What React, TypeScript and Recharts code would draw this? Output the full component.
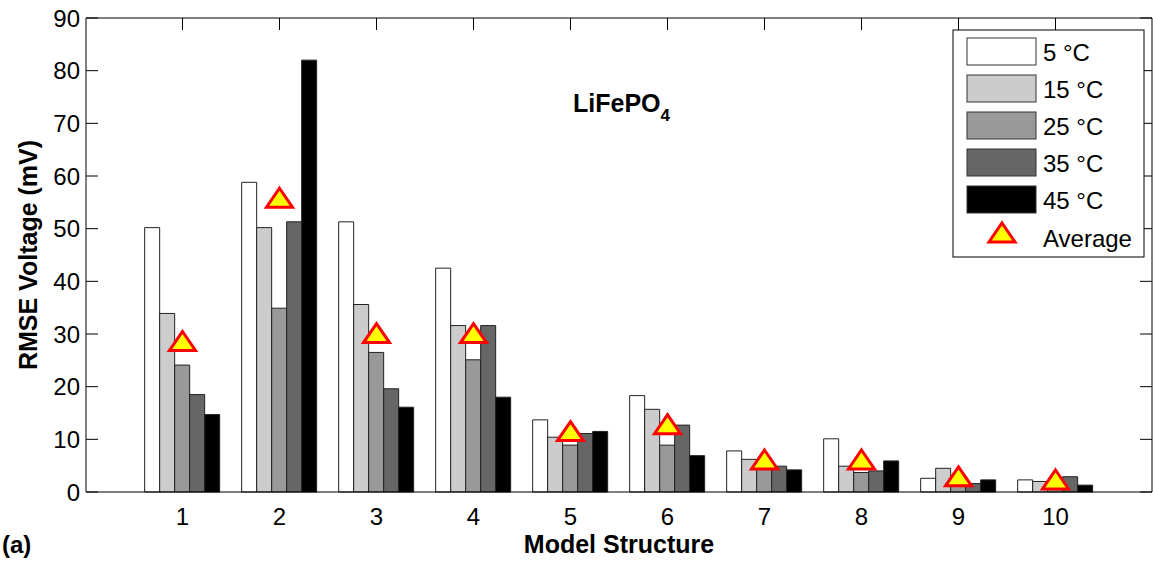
import React from 'react';
import { ComposedChart, Bar, Line, XAxis, YAxis } from 'recharts';

const FONT = '"Liberation Sans", Arial, sans-serif';

// model structures on the x axis
const structures = ['1', '2', '3', '4', '5', '6', '7', '8', '9', '10'];

// RMSE voltage (mV) per temperature
const temps = ['5 °C', '15 °C', '25 °C', '35 °C', '45 °C'];
const rmse5 = [50.2, 58.8, 51.3, 42.5, 13.7, 18.3, 7.8, 10.1, 2.6, 2.3];
const rmse15 = [33.9, 50.2, 35.6, 31.6, 10.4, 15.7, 6.2, 4.9, 4.5, 2.0];
const rmse25 = [24.1, 34.9, 26.5, 25.1, 8.9, 8.9, 5.4, 3.7, 1.5, 1.0];
const rmse35 = [18.5, 51.3, 19.6, 31.6, 11.1, 12.7, 4.9, 4.0, 1.6, 2.9];
const rmse45 = [14.7, 82.0, 16.1, 18.0, 11.5, 6.9, 4.2, 5.9, 2.3, 1.3];
const average = [28.2, 55.4, 29.7, 29.7, 11.1, 12.4, 5.7, 5.7, 2.5, 1.9];

const yTicks = [0, 10, 20, 30, 40, 50, 60, 70, 80, 90];

const seriesKeys = ['t5', 't15', 't25', 't35', 't45'];
const fills = ['#ffffff', '#cccccc', '#999999', '#666666', '#000000'];

const data = structures.map((name, i) => ({
  name,
  t5: rmse5[i],
  t15: rmse15[i],
  t25: rmse25[i],
  t35: rmse35[i],
  t45: rmse45[i],
  avg: average[i],
}));

const TICK_LEN = 12;

const LeftTick = (props: any) => {
  const { x, y, payload } = props;
  return (
    <g>
      <line x1={x} y1={y} x2={x + TICK_LEN} y2={y} stroke="#000" />
      <text x={x - 6} y={y} dy="0.36em" textAnchor="end" fontSize={24} fontFamily={FONT} fill="#000">
        {payload.value}
      </text>
    </g>
  );
};

const RightTick = (props: any) => {
  const { x, y } = props;
  return <line x1={x} y1={y} x2={x - TICK_LEN} y2={y} stroke="#000" />;
};

const TopTick = (props: any) => {
  const { x, y } = props;
  return <line x1={x} y1={y} x2={x} y2={y + TICK_LEN} stroke="#000" />;
};

const BottomTick = (props: any) => {
  const { x, y, payload } = props;
  return (
    <text x={x} y={y + 33} textAnchor="middle" fontSize={24} fontFamily={FONT} fill="#000">
      {payload.value}
    </text>
  );
};

const Triangle = ({ cx, cy }: { cx: number; cy: number }) => (
  <polygon
    points={`${cx},${cy - 12} ${cx + 13},${cy + 7} ${cx - 13},${cy + 7}`}
    fill="#ffff00"
    stroke="#ff0000"
    strokeWidth={3}
  />
);

const TriangleDot = (props: any) => {
  const { cx, cy, index } = props;
  if (cx == null || cy == null) return null;
  return <Triangle key={`tri-${index}`} cx={cx} cy={cy} />;
};

export default function App() {
  return (
    <div style={{ position: 'absolute', left: 0, top: 0, width: 1153, height: 561, background: '#fff', fontFamily: FONT }}>
      <ComposedChart
        width={1153}
        height={561}
        data={data}
        margin={{ top: 0, right: 0, left: 0, bottom: 0 }}
        barCategoryGap="11%"
        barGap={0}
      >
        <XAxis
          dataKey="name"
          xAxisId="bottom"
          orientation="bottom"
          height={69}
          padding={{ left: 48, right: 48 }}
          axisLine={{ stroke: '#000' }}
          tickLine={false}
          tickSize={0}
          tickMargin={0}
          tick={<BottomTick />}
          interval={0}
        />
        <XAxis
          dataKey="name"
          xAxisId="top"
          orientation="top"
          height={18}
          padding={{ left: 48, right: 48 }}
          axisLine={{ stroke: '#000' }}
          tickLine={false}
          tickSize={0}
          tickMargin={0}
          tick={<TopTick />}
          interval={0}
        />
        <YAxis
          yAxisId="left"
          orientation="left"
          width={86}
          domain={[0, 90]}
          ticks={yTicks}
          axisLine={{ stroke: '#000' }}
          tickLine={false}
          tickSize={0}
          tickMargin={0}
          tick={<LeftTick />}
          interval={0}
        />
        <YAxis
          yAxisId="right"
          orientation="right"
          width={1}
          domain={[0, 90]}
          ticks={yTicks}
          axisLine={{ stroke: '#000' }}
          tickLine={false}
          tickSize={0}
          tickMargin={0}
          tick={<RightTick />}
          interval={0}
        />
        {seriesKeys.map((key, i) => (
          <Bar
            key={key}
            dataKey={key}
            name={temps[i]}
            xAxisId="bottom"
            yAxisId="left"
            fill={fills[i]}
            stroke="#222"
            strokeWidth={1}
            isAnimationActive={false}
          />
        ))}
        <Line
          dataKey="avg"
          name="Average"
          xAxisId="top"
          yAxisId="right"
          stroke="none"
          dot={<TriangleDot />}
          activeDot={false}
          legendType="none"
          isAnimationActive={false}
        />
      </ComposedChart>

      <svg
        width={1153}
        height={561}
        style={{ position: 'absolute', left: 0, top: 0, pointerEvents: 'none' }}
        fontFamily={FONT}
      >
        {/* axis titles */}
        <text x={28} y={255} transform="rotate(-90 28 255)" textAnchor="middle" dy="0.36em" fontSize={25} fontWeight="bold">
          RMSE Voltage (mV)
        </text>
        <text x={619} y={553} textAnchor="middle" fontSize={25} fontWeight="bold">
          Model Structure
        </text>
        <text x={2} y={553} fontSize={24} fontWeight="bold">
          (a)
        </text>
        <text x={573} y={112} fontSize={25} fontWeight="bold">
          LiFePO<tspan fontSize={17} dy={9}>4</tspan>
        </text>

        {/* legend */}
        <rect x={953} y={30} width={191} height={227} fill="#fff" stroke="#000" />
        {temps.map((t, i) => (
          <g key={t}>
            <rect x={967} y={38 + i * 37} width={69} height={27} fill={fills[i]} stroke="#333" />
            <text x={1043} y={52 + i * 37} dy="0.36em" fontSize={24}>
              {t}
            </text>
          </g>
        ))}
        <Triangle cx={1002} cy={235} />
        <text x={1043} y={238} dy="0.36em" fontSize={24}>
          Average
        </text>
      </svg>
    </div>
  );
}
